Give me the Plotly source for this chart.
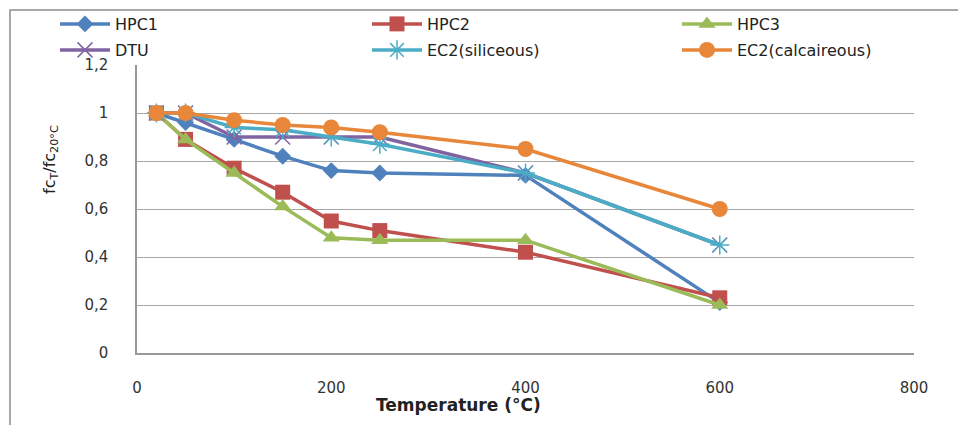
import plotly.graph_objects as go

temps = [20, 50, 100, 150, 200, 250, 400, 600]
hpc1 = [1.0, 0.96, 0.89, 0.82, 0.76, 0.75, 0.74, 0.21]
hpc2 = [1.0, 0.89, 0.77, 0.67, 0.55, 0.51, 0.42, 0.23]
hpc3 = [1.0, 0.89, 0.75, 0.61, 0.48, 0.47, 0.47, 0.20]
dtu = [1.0, 1.0, 0.90, 0.90, 0.90, 0.90, 0.75, 0.45]
ec2_sil = [1.0, 1.0, 0.94, 0.93, 0.90, 0.87, 0.75, 0.45]
ec2_cal = [1.0, 1.0, 0.97, 0.95, 0.94, 0.92, 0.85, 0.60]

names = ["HPC1", "HPC2", "HPC3", "DTU", "EC2(siliceous)", "EC2(calcaireous)"]
series = [hpc1, hpc2, hpc3, dtu, ec2_sil, ec2_cal]
colors = ["#4F81BD", "#C0504D", "#9BBB59", "#8064A2", "#4BACC6", "#E8873A"]
symbols = ["diamond", "square", "triangle-up", "x-thin-open", "asterisk-open", "circle"]
msizes = [13, 15, 15, 15, 16, 16]
legend_ids = ["legend", "legend2", "legend3", "legend4", "legend5", "legend6"]
legend_px = [(58, 24), (370, 24), (680, 24), (58, 50), (370, 50), (680, 50)]

fig = go.Figure()
for name, vals, col, sym, ms, lg in zip(names, series, colors, symbols, msizes, legend_ids):
    marker = dict(symbol=sym, size=ms, color=col)
    if "open" in sym:
        marker["line"] = dict(color=col, width=1.5)
    fig.add_trace(go.Scatter(x=temps, y=vals, mode="lines+markers", name=name,
                             line=dict(color=col, width=3.5), marker=marker, legend=lg,
                             showlegend=True))

W, H = 958, 425
ml, mr, mt, mb = 137, 44, 65, 72
pw = W - ml - mr
ph = H - mt - mb

def px_x(p):
    return (p - ml) / pw

def px_y(p):
    return (H - mb - p) / ph

font = dict(family="DejaVu Sans", size=15, color="#333333")
leg_common = dict(orientation="v", xanchor="left", yanchor="middle", itemwidth=50,
                  font=dict(family="DejaVu Sans", size=16, color="#222222"),
                  bgcolor="rgba(0,0,0,0)", borderwidth=0, itemclick=False)

legend_layout = {}
for lg, (lx, ly) in zip(legend_ids, legend_px):
    legend_layout[lg] = dict(x=px_x(lx - 3), y=px_y(ly), **leg_common)

fig.update_layout(
    width=W, height=H,
    showlegend=True,
    margin=dict(l=ml, r=mr, t=mt, b=mb, autoexpand=False),
    paper_bgcolor="white", plot_bgcolor="white",
    separators=", ",
    font=font,
    xaxis=dict(range=[0, 800], tickvals=[0, 200, 400, 600, 800], showgrid=False,
               showline=True, linecolor="#999999", linewidth=1.5, zeroline=False,
               ticks="", ticklabelstandoff=20, tickfont=font, fixedrange=True,
               automargin=False),
    yaxis=dict(range=[0, 1.2], tickvals=[0, 0.2, 0.4, 0.6, 0.8, 1.0, 1.2], showgrid=True,
               gridcolor="#A6A6A6", gridwidth=1.2, showline=True, linecolor="#999999",
               linewidth=1.5, zeroline=False, ticks="", ticklabelstandoff=24,
               tickfont=font, fixedrange=True, automargin=False),
    annotations=[
        dict(text="<b>Temperature (°C)</b>", xref="paper", yref="paper",
             x=px_x(458), y=px_y(405), xanchor="center", yanchor="middle",
             showarrow=False, font=dict(family="DejaVu Sans", size=17, color="#222222")),
        dict(text="fc<sub>T</sub>/fc<sub>20°C</sub>", xref="paper", yref="paper",
             x=px_x(50), y=px_y(160), xanchor="center", yanchor="middle", textangle=-90,
             showarrow=False, font=dict(family="DejaVu Sans", size=16, color="#222222")),
    ],
    shapes=[
        dict(type="rect", xref="paper", yref="paper", x0=px_x(10), x1=px_x(1000),
             y0=px_y(460), y1=px_y(10), line=dict(color="#8C8C8C", width=1.5),
             fillcolor="rgba(0,0,0,0)", layer="below"),
    ],
    **legend_layout,
)

fig.write_html("out.html", config={"displayModeBar": False},
               post_script="document.body.style.margin='0';document.body.style.padding='0';")
